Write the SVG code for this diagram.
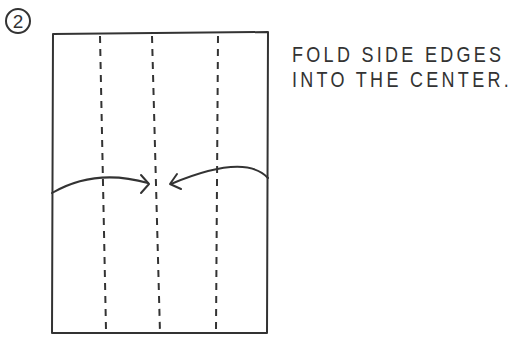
<svg xmlns="http://www.w3.org/2000/svg" width="513" height="338" viewBox="0 0 513 338">
<style>
.ln{fill:none;stroke:#333;stroke-width:2;stroke-linecap:round;stroke-linejoin:round}
.ds{fill:none;stroke:#333;stroke-width:2;stroke-dasharray:7 6}
.tx{font-family:"Liberation Sans",Arial,sans-serif;font-size:18px;fill:#333;letter-spacing:3.3px}
</style>
<rect width="513" height="338" fill="#fff"/>
<g id="step">
<circle class="ln" cx="18" cy="21" r="12"/>
<text class="tx" x="18" y="28" text-anchor="middle" style="letter-spacing:0;font-size:19px">2</text>
</g>
<g id="paper">
<path class="ln" d="M53,34 L268,32 L267,333 L52,333 L53,34 Z"/>
</g>
<g id="folds">
<path class="ds" d="M100,36 L106,330"/>
<path class="ds" d="M152,36 L160,333"/>
<path class="ds" d="M218,36 L216,330"/>
</g>
<g id="connectors">
<path class="ln" d="M52,193 Q95,168 148,183"/>
<path class="ln" d="M141,175 L149,184 L141,193"/>
<path class="ln" d="M268,178 Q245,153 171,184"/>
<path class="ln" d="M177,174 L170,184 L181,189"/>
</g>
<g id="label">
<text class="tx" transform="translate(292,62) scale(1,1.22)">FOLD SIDE EDGES</text>
<text class="tx" transform="translate(292,87) scale(1,1.22)">INTO THE CENTER.</text>
</g>
</svg>
